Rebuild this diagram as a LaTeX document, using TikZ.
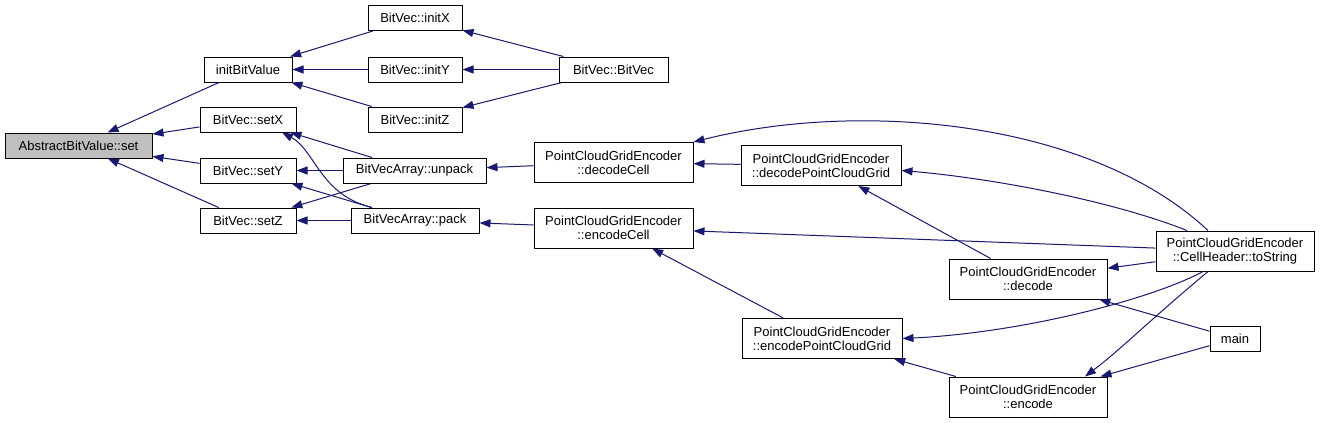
\documentclass[tikz,border=0pt]{standalone}
\usepackage{fontspec}
\setmainfont{Liberation Sans}
\usepackage{tikz}
\usetikzlibrary{arrows.meta}

\definecolor{navyedge}{RGB}{25,25,112}
\definecolor{rootfill}{RGB}{191,191,191}

\begin{document}
\begin{tikzpicture}[
  x=1pt, y=-1pt,
  >={Triangle[length=11pt, width=8pt]},
  fn/.style   = {draw=black, line width=1pt, fill=white, rectangle, inner sep=0pt,
                 minimum height=25pt, align=center, font=\fontsize{13}{14}\selectfont},
  fn2/.style  = {fn, minimum height=40pt},
  root/.style = {fn, fill=rootfill},
  call/.style = {draw=navyedge, line width=1pt},
]
\useasboundingbox (0,0) rectangle (1320,423);

%── Nodes ─────────────────────────────────────────────────────────────────────
% column 0
\node[root, minimum width=147pt] (absset)  at (78.5, 145.5) {AbstractBitValue::set};

% column 1
\node[fn,   minimum width=88pt]  (initbv)  at (248,  69.5)  {initBitValue};
\node[fn,   minimum width=96pt]  (setx)    at (248, 119.5)  {BitVec::setX};
\node[fn,   minimum width=96pt]  (sety)    at (248, 170.5)  {BitVec::setY};
\node[fn,   minimum width=96pt]  (setz)    at (248, 220.5)  {BitVec::setZ};

% column 2
\node[fn,   minimum width=94pt]  (initx)   at (415,  18)    {BitVec::initX};
\node[fn,   minimum width=94pt]  (inity)   at (415,  69.5)  {BitVec::initY};
\node[fn,   minimum width=94pt]  (initz)   at (415, 119.5)  {BitVec::initZ};
\node[fn,   minimum width=143pt] (unpack)  at (414.5,170.5) {BitVecArray::unpack};
\node[fn,   minimum width=128pt] (pack)    at (415, 220.5)  {BitVecArray::pack};

% column 3
\node[fn,   minimum width=109pt] (bvctor)  at (613.5, 69.5) {BitVec::BitVec};
\node[fn2,  minimum width=159pt] (deccell) at (613.5,162.5) {PointCloudGridEncoder\\::decodeCell};
\node[fn2,  minimum width=159pt] (enccell) at (613.5,228)   {PointCloudGridEncoder\\::encodeCell};

% column 4
\node[fn2,  minimum width=160pt] (decgrid) at (821, 165.5)  {PointCloudGridEncoder\\::decodePointCloudGrid};
\node[fn2,  minimum width=160pt] (encgrid) at (822, 338.5)  {PointCloudGridEncoder\\::encodePointCloudGrid};

% column 5
\node[fn2,  minimum width=158pt] (decode)  at (1028, 279)   {PointCloudGridEncoder\\::decode};
\node[fn2,  minimum width=158pt] (encode)  at (1028, 397)   {PointCloudGridEncoder\\::encode};

% column 6
\node[fn2,  minimum width=158pt] (tostr)   at (1235, 251)   {PointCloudGridEncoder\\::CellHeader::toString};
\node[fn,   minimum width=50pt]  (main)    at (1235, 338.5) {main};

%── Calls into AbstractBitValue::set ──────────────────────────────────────────
\draw[call, <-] (absset) -- (initbv);
\draw[call, <-] (absset) -- (setx);
\draw[call, <-] (absset) -- (sety);
\draw[call, <-] (absset) -- (setz);

%── initBitValue and its callers ──────────────────────────────────────────────
\draw[call, <-] (initbv) -- (initx);
\draw[call, <-] (initbv) -- (inity);
\draw[call, <-] (initbv) -- (initz);
\draw[call, <-] (initx)  -- (bvctor);
\draw[call, <-] (inity)  -- (bvctor);
\draw[call, <-] (initz)  -- (bvctor);

%── setX / setY / setZ from unpack and pack ───────────────────────────────────
\draw[call, <-] (setx) -- (unpack);
\draw[call, <-] ([xshift=34pt]setx.south) .. controls (315,150) and (320,195) .. ([xshift=-43pt]pack.north);
\draw[call, <-] (sety) -- (unpack);
\draw[call, <-] (sety) -- (pack);
\draw[call, <-] (setz) -- (unpack);
\draw[call, <-] (setz) -- (pack);

%── Encoder cells ─────────────────────────────────────────────────────────────
\draw[call, <-] (unpack)  -- (deccell);
\draw[call, <-] (pack)    -- (enccell);
\draw[call, <-] (deccell) -- (decgrid);
\draw[call, <-] (deccell.north east) .. controls (860,100) and (1090,120) .. ([xshift=-27pt]tostr.north);
\draw[call, <-] (enccell) -- (tostr);
\draw[call, <-] (enccell) -- (encgrid);

%── Grid level ────────────────────────────────────────────────────────────────
\draw[call, <-] ([yshift=-5pt]decgrid.east) .. controls (990,178) and (1110,200) .. ([xshift=-48pt]tostr.north);
\draw[call, <-] (decgrid) -- (decode);
\draw[call, <-] (decode)  -- (tostr);
\draw[call, <-] (decode)  -- (main);
\draw[call, <-] (encgrid.east) .. controls (1020,333) and (1150,300) .. ([xshift=-32pt]tostr.south);
\draw[call, <-] (encgrid) -- (encode);
\draw[call, <-] ([xshift=57pt]encode.north) .. controls (1120,350) and (1150,320) .. ([xshift=-27pt]tostr.south);
\draw[call, <-] (encode)  -- (main);

\end{tikzpicture}
\end{document}
